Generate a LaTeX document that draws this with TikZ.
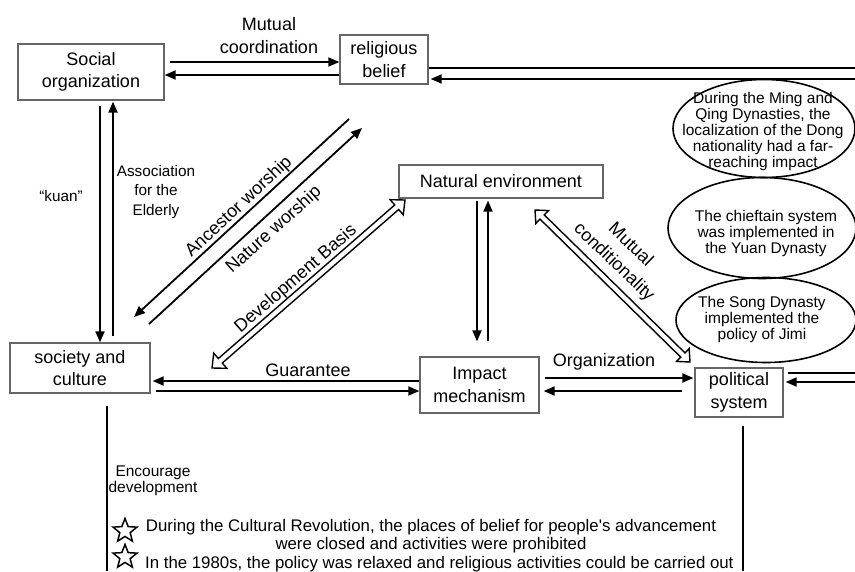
\documentclass[tikz,border=0pt]{standalone}
\usepackage{fontspec}
\setmainfont{Liberation Sans}
\usetikzlibrary{arrows.meta,calc,shapes.geometric}
\definecolor{boxgray}{HTML}{666666}
\newcommand\hollowdbl[5]{%
  \draw[hollowarr] (#1)
    -- ($(#1)!#3!(#2)!#4!90:(#2)$)
    -- ($(#1)!#3!(#2)!#5!90:(#2)$)
    -- ($(#2)!#3!(#1)!#5!-90:(#1)$)
    -- ($(#2)!#3!(#1)!#4!-90:(#1)$)
    -- (#2)
    -- ($(#2)!#3!(#1)!#4!90:(#1)$)
    -- ($(#2)!#3!(#1)!#5!90:(#1)$)
    -- ($(#1)!#3!(#2)!#5!-90:(#2)$)
    -- ($(#1)!#3!(#2)!#4!-90:(#2)$)
    -- cycle;}
\begin{document}
\begin{tikzpicture}[x=1pt,y=-1pt,
  box/.style={draw=boxgray, line width=1.3pt, inner sep=0pt, align=center, font=\fontsize{18}{22.5}\selectfont},
  ln/.style={line width=1.8pt},
  arr/.style={line width=1.8pt, -{Triangle[length=11pt,width=9pt]}},
  hollowarr/.style={line width=1.4pt, line join=miter},
  lab/.style={inner sep=0pt, align=center, font=\fontsize{18}{23}\selectfont},
  smalllab/.style={inner sep=0pt, align=center, font=\fontsize{15.3}{19.5}\selectfont},
  ell/.style={draw, ellipse, line width=1.6pt, inner sep=0pt},
  elltext/.style={inner sep=0pt, align=center, font=\fontsize{15.5}{16}\selectfont},
  note/.style={inner sep=0pt, font=\fontsize{16.8}{18}\selectfont},
  starmark/.style={star, star points=5, star point ratio=2.3, draw, line width=1.5pt, minimum size=25pt, inner sep=0pt}
]
\useasboundingbox[fill=white] (0,0) rectangle (855,571);

% boxes
\node[box, minimum width=146pt, minimum height=56pt] (so) at (91,72) {Social\\organization};
\node[box, minimum width=88pt, minimum height=49pt] (rb) at (384,59.5) {religious\\belief};
\node[box, minimum width=204pt, minimum height=33pt] (ne) at (501,181.5) {Natural environment};
\node[box, minimum width=140pt, minimum height=50pt] (sc) at (80,368) {society and\\culture};
\node[box, minimum width=119pt, minimum height=56pt] (im) at (479.5,385) {Impact\\mechanism};
\node[box, minimum width=88pt, minimum height=49pt] (ps) at (739,392.5) {political\\system};

% ellipses
\node[ell, minimum width=182pt, minimum height=98pt] (ming) at (764,128.5) {};
\node[elltext] (mingt) at ($(ming.center)+(-1,2.5)$) {During the Ming and\\Qing Dynasties, the\\localization of the Dong\\nationality had a far-\\reaching impact};
\node[ell, minimum width=188pt, minimum height=101pt] (chief) at (762,228) {};
\node[elltext] (chieft) at ($(chief.center)+(4,5)$) {The chieftain system\\was implemented in\\the Yuan Dynasty};
\node[ell, minimum width=180pt, minimum height=85pt] (song) at (766,320) {};
\node[elltext] (songt) at ($(song.center)+(-4,-1)$) {The Song Dynasty\\implemented the\\policy of Jimi};

% free coordinates
\coordinate (rin1) at (855,68);
\coordinate (rin2) at (855,79);
\coordinate (pin1) at (855,373);
\coordinate (pin2) at (855,382);
\coordinate (aw1) at (349,119);
\coordinate (aw2) at (134,317);
\coordinate (nw1) at (149,324);
\coordinate (nw2) at (362,128);
\coordinate (db1) at (212,368);
\coordinate (db2) at (405,200);
\coordinate (mc1) at (535,210);
\coordinate (mc2) at (690,362);
\coordinate (bot1) at (107,571);
\coordinate (bot2) at (743,571);

% connectors
\draw[arr] ($(so.east)+(5,-10)$) -- ($(rb.west)+(0,2.5)$);
\draw[arr] ($(rb.west)+(0,15.5)$) -- ($(so.east)+(0,3)$);
\draw[ln] (rin1) -- (rb.east |- rin1);
\draw[arr] (rin2) -- ($(rb.east |- rin2)+(2,0)$);

\draw[arr] ($(so.south)+(9,5)$) -- ($(sc.north)+(20,0)$);
\draw[arr] ($(sc.north)+(33,-6)$) -- ($(so.south)+(22,1)$);

\draw[arr] (aw1) -- (aw2);
\draw[arr] (nw1) -- (nw2);
\hollowdbl{db1}{db2}{11pt}{10pt}{3pt}

\draw[arr] ($(ne.south)+(-24,2)$) -- ($(im.north)+(-2.5,-15)$);
\draw[arr] ($(im.north)+(8.5,-15)$) -- ($(ne.south)+(-13,2)$);
\hollowdbl{mc1}{mc2}{10pt}{9pt}{3pt}

\draw[arr] ($(im.west)+(0,-4)$) -- ($(sc.east)+(2,13)$);
\draw[arr] ($(sc.east)+(5,23)$) -- ($(im.west)+(0,6)$);

\draw[arr] ($(im.east)+(5,-7)$) -- ($(ps.west)+(-1,-14.5)$);
\draw[arr] ($(ps.west)+(-12,-1.5)$) -- ($(im.east)+(4,6)$);

\draw[ln] (pin1) -- ($(ps.east |- pin1)+(4,0)$);
\draw[arr] (pin2) -- ($(ps.east |- pin2)+(2,0)$);

\draw[ln] ($(sc.south)+(27,12)$) -- (bot1);
\draw[ln] ($(ps.south)+(4,8)$) -- (bot2);

% labels
\node[lab] (lmc) at (269,36) {Mutual\\coordination};
\node[smalllab] (lkuan) at (61,196) {“kuan”};
\node[smalllab] (lassoc) at (156,192) {Association\\for the\\Elderly};
\node[lab, rotate=43] (lanc) at (239,207) {Ancestor worship};
\node[lab, rotate=42] (lnat) at (274,230) {Nature worship};
\node[lab, rotate=41] (ldev) at (296,279) {Development Basis};
\node[lab, rotate=-44, font=\fontsize{18}{24}\selectfont] (lcond) at (622,254) {Mutual\\conditionality};
\node[lab] (lguar) at (308,370) {Guarantee};
\node[lab] (lorg) at (604,362) {Organization};
\node[smalllab, font=\fontsize{15.5}{16}\selectfont] (lenc) at (153,481) {Encourage\\development};

% notes
\node[starmark] (st1) at (125,531) {};
\node[starmark] (st2) at (125,557) {};
\node[note, align=center] (n1) at (431,536) {During the Cultural Revolution, the places of belief for people\textquotesingle s advancement\\were closed and activities were prohibited};
\node[note, anchor=base west] (n2) at (145,568) {In the 1980s, the policy was relaxed and religious activities could be carried out};
\end{tikzpicture}
\end{document}
